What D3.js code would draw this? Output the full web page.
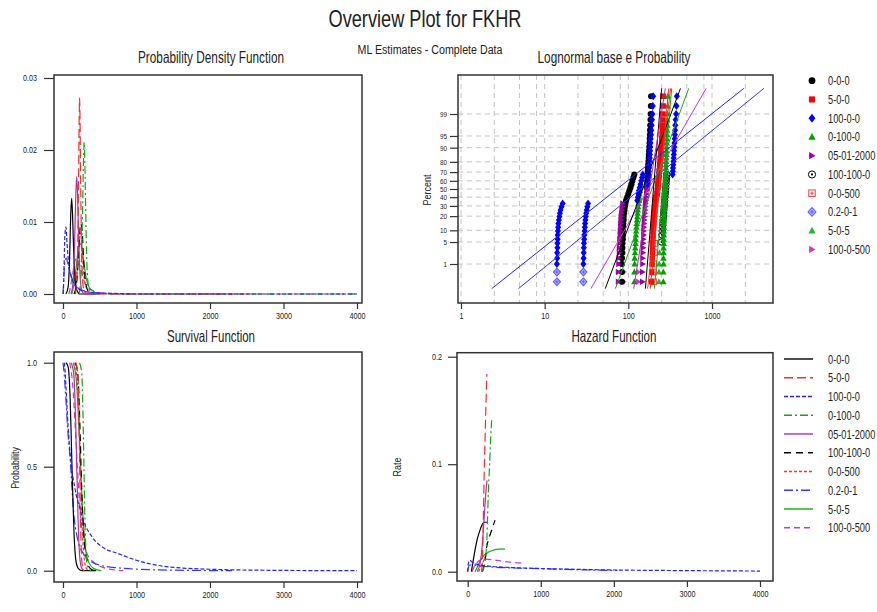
<!DOCTYPE html>
<html>
<head>
<meta charset="utf-8">
<script src="https://cdn.jsdelivr.net/npm/d3@7"></script>
<style>
body { margin: 0; background: #fff; }
svg text { font-family: "Liberation Sans", Arial, sans-serif; fill: #222; }
</style>
</head>
<body>
<div id="chart"></div>
<script>
// Data {{{
const series_names = ["0-0-0", "5-0-0", "100-0-0", "0-100-0", "05-01-2000", "100-100-0", "0-0-500", "0.2-0-1", "5-0-5", "100-0-500"];
const pdf_ticks_x = [0, 1000, 2000, 3000, 4000];
const pdf_ticks_y = [0, 0.01, 0.02, 0.03];
const surv_ticks_y = [0, 0.5, 1];
const haz_ticks_y = [0, 0.1, 0.2];
const prob_ticks_x = [1, 10, 100, 1000];
const prob_grid_x = [1, 2.5, 5, 8, 10, 25, 50, 80, 100, 250, 500, 800, 1000, 2500];
const prob_ticks_pct = [1, 5, 10, 20, 30, 40, 50, 60, 70, 80, 90, 95, 99];

// [time, density]
const pdf_curves = [
  [[40,0],[70,0.001],[90,0.005],[105,0.011],[118,0.0133],[130,0.011],[145,0.006],[165,0.002],[190,0.0005],[230,0],[450,0]],
  [[170,0],[195,0.004],[210,0.014],[220,0.024],[226,0.0272],[232,0.024],[242,0.014],[255,0.005],[275,0.001],[320,0],[2500,0]],
  [[5,0],[15,0.004],[25,0.008],[40,0.0093],[55,0.007],[80,0.004],[110,0.0025],[160,0.0012],[250,0.0005],[400,0.0002],[640,0.0001],[1000,0],[4000,0]],
  [[220,0],[245,0.003],[265,0.011],[280,0.019],[288,0.0211],[296,0.019],[310,0.011],[330,0.003],[360,0.0005],[420,0],[4000,0]],
  [[110,0],[140,0.002],[160,0.008],[175,0.014],[187,0.0163],[198,0.014],[212,0.008],[230,0.003],[255,0.0005],[300,0],[500,0]],
  [[150,0],[190,0.002],[215,0.006],[240,0.0098],[262,0.0085],[285,0.004],[310,0.0015],[350,0.0003],[420,0]],
  [[160,0],[190,0.003],[215,0.007],[235,0.0085],[255,0.007],[280,0.003],[320,0.0008],[380,0]],
  [[0,0],[10,0.002],[25,0.0045],[45,0.005],[70,0.004],[110,0.0025],[170,0.0012],[250,0.0006],[400,0.0002],[700,0],[2300,0]],
  [[120,0],[160,0.002],[200,0.0055],[240,0.007],[275,0.005],[320,0.002],[380,0.0006],[500,0]],
  [[80,0],[120,0.002],[160,0.0045],[190,0.005],[225,0.004],[280,0.002],[350,0.0008],[500,0.0002],[800,0],[4000,0]]
];

// [time, survival probability]
const surv_curves = [
  [[40,1],[70,0.98],[95,0.85],[115,0.6],[130,0.4],[150,0.18],[175,0.05],[210,0.01],[260,0],[450,0]],
  [[175,1],[200,0.95],[215,0.8],[225,0.55],[235,0.3],[248,0.1],[265,0.02],[290,0]],
  [[20,1],[35,0.92],[60,0.75],[100,0.55],[160,0.4],[230,0.3],[280,0.24],[400,0.16],[550,0.11],[730,0.085],[1000,0.05],[1400,0.02],[2000,0.007],[2800,0.002],[4000,0]],
  [[225,1],[255,0.95],[272,0.75],[285,0.5],[298,0.25],[315,0.08],[340,0.01],[380,0]],
  [[110,1],[145,0.95],[170,0.75],[187,0.5],[205,0.25],[225,0.08],[250,0.015],[290,0]],
  [[170,1],[205,0.93],[230,0.7],[250,0.45],[270,0.25],[295,0.12],[330,0.04],[380,0.008],[450,0]],
  [[160,1],[195,0.9],[220,0.7],[240,0.45],[260,0.22],[285,0.07],[320,0.01],[360,0]],
  [[0,1],[15,0.95],[40,0.82],[70,0.65],[95,0.55],[140,0.3],[200,0.15],[280,0.08],[400,0.04],[700,0.015],[1300,0.004],[2300,0]],
  [[140,1],[185,0.9],[215,0.7],[240,0.5],[265,0.3],[300,0.12],[350,0.04],[420,0.01],[520,0]],
  [[90,1],[130,0.9],[165,0.7],[195,0.5],[230,0.3],[280,0.15],[330,0.08],[420,0.04],[550,0.015],[700,0.004],[820,0]]
];

// [time, hazard rate]
const haz_curves = [
  [[50,0],[70,0.008],[100,0.02],[130,0.03],[165,0.038],[200,0.044],[230,0.046],[265,0.046]],
  [[190,0],[205,0.02],[214,0.05],[225,0.088],[240,0.13],[252,0.16],[262,0.184]],
  [[0,0],[10,0.008],[30,0.0105],[60,0.009],[120,0.007],[250,0.0055],[500,0.0042],[1000,0.003],[1500,0.0022],[2000,0.0016],[3000,0.001],[4000,0.0006]],
  [[200,0],[240,0.01],[265,0.035],[282,0.073],[300,0.1],[315,0.125],[328,0.141]],
  [[130,0],[170,0.008],[200,0.025],[225,0.05],[250,0.075],[265,0.085]],
  [[200,0],[230,0.008],[260,0.023],[300,0.033],[340,0.041],[374,0.048]],
  [[150,0],[190,0.006],[230,0.012],[260,0.016]],
  [[0,0],[20,0.006],[60,0.0065],[150,0.0055],[300,0.0045],[600,0.0035],[1000,0.0028],[1500,0.0018],[2050,0.0012]],
  [[100,0],[130,0.004],[170,0.01],[220,0.015],[280,0.018],[350,0.02],[420,0.021],[510,0.021]],
  [[60,0],[100,0.006],[150,0.01],[210,0.0118],[350,0.011],[500,0.0095],[650,0.0085],[770,0.008]]
];

// fitted lines on the probability plot: [time, percent] end points
const prob_lines = [
  [[53,0.1],[420,99.91]],
  [[183,0.1],[304,99.91]],
  [[2.33,0.1],[2400,99.91]],
  [[205,0.1],[330,99.91]],
  [[116,0.1],[277,99.91]],
  [[160,0.1],[250,99.91]],
  [[170,0.1],[320,99.91]],
  [[4.86,0.1],[4170,99.91]],
  [[70,0.1],[527,99.91]],
  [[35.7,0.1],[852,99.91]]
];

// plotted failure points: [time, percent]
const prob_points = [
  [[84,0.2],[84,0.5],[84,1],[84,1.6],[85,2.4],[85,3.4],[85,4.6],[86,6],[86,7.7],[86,9.6],[87,11.8],[87,14.2],[88,16.8],[88,19.6],[89,22.6],[90,25.8],[91,29.2],[92,32.6],
   [94,36.2],[97,40],[100,44],[103,48],[106,52],[109,56],[112,60],[115,63.8],[118,67.4],
   [166,52],[167,56],[168,60],[169,63.8],[170,67.4],[171,70.8],[172,74.2],[173,77.4],[174,80.4],[175,83.2],[176,85.8],[177,88.2],[178,90.4],[179,92.3],[180,94],[181,95.4],[182,96.6],[183,97.6],[184,98.4],[185,99],[186,99.5],[187,99.8]],
  [[190,0.2],[190,0.5],[192,1],[193,1.6],[194,2.4],[195,3.4],[196,4.6],[197,6],[198,7.7],[199,9.6],[200,11.8],[201,14.2],[202,16.8],[204,19.6],[205,22.6],[206,25.8],[208,29.2],[209,32.6],[211,36.2],[213,40],
   [222,44],[224,48],[226,52],[228,56],[230,60],[232,63.8],[234,67.4],[236,70.8],[238,74.2],[240,77.4],[242,80.4],[244,83.2],[246,85.8],[248,88.2],[250,90.4],[252,92.3],[254,94],[256,95.4],[257,96.6],[258,97.6],[259,98.4],[260,99],[261,99.5],[262,99.8]],
  [[14,1],[14.1,1.6],[14.1,2.4],[14.2,3.4],[14.2,4.6],[14.3,6],[14.3,7.7],[14.4,9.6],[14.5,11.8],[14.6,14.2],[14.8,16.8],[15,19.6],[15.2,22.6],[15.5,25.8],[15.9,29.2],[16.4,32.6],
   [29,1],[29.2,1.6],[29.3,2.4],[29.4,3.4],[29.5,4.6],[29.7,6],[29.8,7.7],[30,9.6],[30.2,11.8],[30.4,14.2],[30.7,16.8],[31,19.6],[31.4,22.6],[31.8,25.8],[32.4,29.2],[33,32.6],
   [128,36.2],[130,40],[132,44],[134,48],[137,52],[140,56],[143,60],[146,63.8],[149,67.4],
   [172,56],[173,60],[174,63.8],[175,67.4],[176,70.8],[177,74.2],[178,77.4],[179,80.4],[180,83.2],[181,85.8],[182,88.2],[183,90.4],[184,92.3],[185,94],[187,95.4],[188,96.6],[190,97.6],[192,98.4],[194,99],[196,99.5],[198,99.8],
   [338,67.4],[340,70.8],[342,74.2],[344,77.4],[346,80.4],[348,83.2],[350,85.8],[352,88.2],[354,90.4],[356,92.3],[358,94],[360,95.4],[362,96.6],[364,97.6],[368,98.4],[372,99],[376,99.5],[380,99.8]],
  [[118,0.2],[118,0.5],[119,1],[119,1.6],[120,2.4],[121,3.4],[122,4.6],[122,6],[123,7.7],[124,9.6],[125,11.8],[126,14.2],[127,16.8],[128,19.6],[129,22.6],[130,25.8],[131,29.2],[132,32.6],[134,36.2],[135,40],[136,44],[138,48],[139,52],[140,55],
   [262,0.2],[262,0.5],[263,1],[263,1.6],[264,2.4],[264,3.4],[265,4.6],[265,6],[266,7.7],[266,9.6],[267,11.8],[267,14.2],[268,16.8],[268,19.6],[269,22.6],[269,25.8],[270,29.2],[270,32.6],[271,36.2],[272,40],[273,44],[274,48],[275,52],[276,56],[277,60],[278,63.8],[279,67.4],[280,70.8],[281,74.2],[282,77.4],[283,80.4],[284,83.2],[285,85.8],[286,88.2],[287,90.4],[288,92.3],[289,94],[290,95.4],[291,96.6],[292,97.6],[293,98.4],[294,99],[296,99.5],[298,99.8]],
  [[76,0.2],[76,0.5],[77,1],[77,1.6],[78,2.4],[78,3.4],[79,4.6],[79,6],[80,7.7],[80,9.6],[81,11.8],[81,14.2],[82,16.8],[82,19.6],[83,22.6],[84,25.8],[85,29.2],[86,32.6],
   [148,0.2],[148,0.5],[149,1],[149,1.6],[150,2.4],[151,3.4],[151,4.6],[152,6],[153,7.7],[153,9.6],[154,11.8],[155,14.2],[156,16.8],[157,19.6],[158,22.6],[159,25.8],[160,29.2],[161,32.6],[162,36.2],[164,40],[165,44],[167,48],[168,52],[170,56],
   [215,36.2],[217,40],[219,44],[221,48],[223,52],[225,56],[227,60],[229,63.8],[231,67.4],[233,70.8],[235,74.2],[237,77.4],[239,80.4],[241,83.2],[243,85.8],[245,88.2],[247,90.4],[249,92.3],[251,94],[253,95.4],[254,96.6],[255,97.6],[256,98.4],[257,99],[258,99.5],[259,99.8]],
  [[250,5],[252,7.7],[254,9.6],[256,11.8],[258,14.2],[260,16.8],[262,19.6],[264,22.6],[266,25.8],[268,29.2],[270,32.6],[272,36.2],[274,40],[276,44],[278,48],[280,52],[282,56],[284,60],[286,63.8],[288,67.4]],
  [[200,0.2],[200,0.5],[202,1],[204,2.4],[206,4.6]],
  [[14,0.2],[14,0.5],[29,0.2],[29,0.5]],
  [[232,0.2],[232,0.5],[234,1],[236,2.4]],
  [[88,0.2],[88,0.5],[132,0.2],[132,0.5]]
];
// }}}
// Styles {{{
const line_colors = ["#000000", "#ff2a2a", "#2323ff", "#12a812", "#b030b0", "#000000", "#ff3030", "#3535ff", "#18a818", "#c040c0"];
const line_dashes = [null, "9,4", "4,2", "8,3,2,3", null, "7,5", "3,2", "9,3,2,3", null, "6,4"];
const marker_kinds = ["circle", "square", "diamond", "triangle", "rtri", "circledot", "squareplus", "diamondplus", "triangle", "rtri"];
const marker_colors = ["#000000", "#ff0000", "#0000ff", "#00a000", "#a000a0", "#000000", "#ff3c3c", "#5a5aff", "#30b030", "#c040c0"];
const draw_order = [9, 8, 7, 6, 5, 0, 4, 3, 1, 2];
const frame_color = "#333";
const grid_color = "#c4c4c4";
// }}}
// helpers {{{
const svg = d3.select("#chart").append("svg")
    .attr("width", 877)
    .attr("height", 612);

// inverse normal cdf (Acklam), used for the probability scale
function probit(p) {
    const a = [-3.969683028665376e+01, 2.209460984245205e+02, -2.759285104469687e+02, 1.383577518672690e+02, -3.066479806614716e+01, 2.506628277459239e+00];
    const b = [-5.447609879822406e+01, 1.615858368580409e+02, -1.556989798598866e+02, 6.680131188771972e+01, -1.328068155288572e+01];
    const c = [-7.784894002430293e-03, -3.223964580411365e-01, -2.400758277161838e+00, -2.549732539343734e+00, 4.374664141464968e+00, 2.938163982698783e+00];
    const d = [7.784695709041462e-03, 3.224671290700398e-01, 2.445134137142996e+00, 3.754408661907416e+00];
    const plow = 0.02425, phigh = 1 - plow;
    let q, r;
    if (p < plow) {
        q = Math.sqrt(-2 * Math.log(p));
        return (((((c[0]*q+c[1])*q+c[2])*q+c[3])*q+c[4])*q+c[5]) / ((((d[0]*q+d[1])*q+d[2])*q+d[3])*q+1);
    }
    if (p > phigh) {
        q = Math.sqrt(-2 * Math.log(1 - p));
        return -(((((c[0]*q+c[1])*q+c[2])*q+c[3])*q+c[4])*q+c[5]) / ((((d[0]*q+d[1])*q+d[2])*q+d[3])*q+1);
    }
    q = p - 0.5;
    r = q * q;
    return (((((a[0]*r+a[1])*r+a[2])*r+a[3])*r+a[4])*r+a[5])*q / (((((b[0]*r+b[1])*r+b[2])*r+b[3])*r+b[4])*r+1);
}

// squeeze text horizontally, the original uses a narrow face
function condense(sel, k) {
    sel.each(function() {
        const w = this.getComputedTextLength();
        d3.select(this).attr("textLength", w * k).attr("lengthAdjust", "spacingAndGlyphs");
    });
}

function draw_frame(x0, y0, x1, y1) {
    svg.append("rect")
        .attr("x", x0).attr("y", y0)
        .attr("width", x1 - x0).attr("height", y1 - y0)
        .attr("fill", "none")
        .attr("stroke", frame_color)
        .attr("stroke-width", 1.5);
}

function add_clip(id, x0, y0, x1, y1) {
    svg.append("clipPath").attr("id", id)
        .append("rect")
        .attr("x", x0).attr("y", y0)
        .attr("width", x1 - x0).attr("height", y1 - y0);
}

function style_axis(g, fs) {
    g.select(".domain").remove();
    g.selectAll(".tick line").attr("stroke", frame_color).attr("stroke-width", 1.2);
    g.selectAll(".tick text").style("font-size", (fs || 8.5) + "px").attr("fill", "#333");
    condense(g.selectAll(".tick text"), 0.85);
}

function draw_marker(g, kind, color, s) {
    if (kind == "circle") {
        g.append("circle").attr("r", s * 0.95).attr("fill", color);
    } else if (kind == "square") {
        g.append("rect").attr("x", -s * 0.85).attr("y", -s * 0.85).attr("width", s * 1.7).attr("height", s * 1.7).attr("fill", color);
    } else if (kind == "diamond") {
        g.append("path").attr("d", `M0,${-s*1.25}L${s*0.95},0L0,${s*1.25}L${-s*0.95},0Z`).attr("fill", color);
    } else if (kind == "triangle") {
        g.append("path").attr("d", `M0,${-s*1.1}L${s},${s*0.8}L${-s},${s*0.8}Z`).attr("fill", color);
    } else if (kind == "rtri") {
        g.append("path").attr("d", `M${-s*0.8},${-s}L${s},0L${-s*0.8},${s}Z`).attr("fill", color);
    } else if (kind == "circledot") {
        g.append("circle").attr("r", s).attr("fill", "none").attr("stroke", color).attr("stroke-width", 1);
        g.append("circle").attr("r", s * 0.3).attr("fill", color);
    } else if (kind == "squareplus") {
        g.append("rect").attr("x", -s * 0.9).attr("y", -s * 0.9).attr("width", s * 1.8).attr("height", s * 1.8)
            .attr("fill", "none").attr("stroke", color).attr("stroke-width", 1);
        g.append("path").attr("d", `M${-s*0.5},0H${s*0.5}M0,${-s*0.5}V${s*0.5}`).attr("stroke", color).attr("stroke-width", 1);
    } else if (kind == "diamondplus") {
        g.append("path").attr("d", `M0,${-s*1.2}L${s*1.1},0L0,${s*1.2}L${-s*1.1},0Z`)
            .attr("fill", "#b8b8ff").attr("stroke", color).attr("stroke-width", 1.1);
        g.append("path").attr("d", `M${-s*0.5},0H${s*0.5}M0,${-s*0.5}V${s*0.5}`).attr("stroke", color).attr("stroke-width", 1);
    }
}

function draw_curves(curves, x, y, clip_id) {
    const line = d3.line()
        .x(d => x(d[0]))
        .y(d => y(d[1]))
        .curve(d3.curveMonotoneX);
    const g = svg.append("g").attr("clip-path", "url(#" + clip_id + ")");
    draw_order.forEach(i => {
        g.append("path")
            .datum(curves[i])
            .attr("d", line)
            .attr("fill", "none")
            .attr("stroke", line_colors[i])
            .attr("stroke-width", 1.2)
            .attr("stroke-dasharray", line_dashes[i]);
    });
}

// legend label, squeezed with a transform so its box stays inside the page
function legend_text(g, yy, name) {
    g.append("text")
        .attr("transform", "translate(828," + yy + ") scale(0.74,1)")
        .attr("dy", "0.36em")
        .style("font-size", "12.5px")
        .text(name);
}
// }}}
// Titles {{{
svg.append("text").attr("x", 425).attr("y", 27).attr("text-anchor", "middle")
    .style("font-size", "24px").attr("textLength", 193).attr("lengthAdjust", "spacingAndGlyphs")
    .text("Overview Plot for FKHR");
svg.append("text").attr("x", 430).attr("y", 54).attr("text-anchor", "middle")
    .style("font-size", "12px").attr("textLength", 145).attr("lengthAdjust", "spacingAndGlyphs")
    .text("ML Estimates - Complete Data");

const panel_titles = [
    {t: "Probability Density Function", x: 211, y: 63, w: 146},
    {t: "Lognormal base e Probability", x: 614, y: 63, w: 153},
    {t: "Survival Function", x: 211, y: 342, w: 88},
    {t: "Hazard Function", x: 614, y: 342, w: 85}
];
panel_titles.forEach(p => {
    svg.append("text").attr("x", p.x).attr("y", p.y).attr("text-anchor", "middle")
        .style("font-size", "16.5px").attr("textLength", p.w).attr("lengthAdjust", "spacingAndGlyphs")
        .text(p.t);
});

const axis_titles = [
    {t: "Percent", x: 427, y: 190},
    {t: "Probability", x: 15, y: 468},
    {t: "Rate", x: 397, y: 467}
];
axis_titles.forEach(a => {
    svg.append("text").attr("transform", "translate(" + a.x + "," + a.y + ") rotate(-90)")
        .attr("text-anchor", "middle").attr("dy", "0.35em")
        .style("font-size", "10.5px")
        .text(a.t)
        .call(condense, 0.85);
});
// }}}
// PDF panel {{{
function plot_pdf() {
    const x = d3.scaleLinear().domain([0, 4000]).range([63, 357]);
    const y = d3.scaleLinear().domain([0, 0.03]).range([294, 78]);
    add_clip("clip-pdf", 54, 75, 362, 303);
    draw_curves(pdf_curves, x, y, "clip-pdf");
    draw_frame(54, 75, 362, 303);
    svg.append("g").attr("transform", "translate(54,0)")
        .call(d3.axisLeft(y).tickValues(pdf_ticks_y).tickFormat(d3.format(".2f")).tickSize(10).tickPadding(7))
        .call(style_axis);
    svg.append("g").attr("transform", "translate(0,303)")
        .call(d3.axisBottom(x).tickValues(pdf_ticks_x).tickFormat(d3.format("d")).tickSize(6).tickPadding(4))
        .call(style_axis);
}
// }}}
// Survival panel {{{
function plot_survival() {
    const x = d3.scaleLinear().domain([0, 4000]).range([63, 357]);
    const y = d3.scaleLinear().domain([0, 1]).range([570.7, 362.7]);
    add_clip("clip-surv", 54, 352, 362, 582);
    draw_curves(surv_curves, x, y, "clip-surv");
    draw_frame(54, 352, 362, 582);
    svg.append("g").attr("transform", "translate(54,0)")
        .call(d3.axisLeft(y).tickValues(surv_ticks_y).tickFormat(d3.format(".1f")).tickSize(10).tickPadding(7))
        .call(style_axis);
    svg.append("g").attr("transform", "translate(0,582)")
        .call(d3.axisBottom(x).tickValues(pdf_ticks_x).tickFormat(d3.format("d")).tickSize(6).tickPadding(4))
        .call(style_axis);
}
// }}}
// Hazard panel {{{
function plot_hazard() {
    const x = d3.scaleLinear().domain([0, 4000]).range([467.7, 760]);
    const y = d3.scaleLinear().domain([0, 0.2]).range([571.7, 356.7]);
    add_clip("clip-haz", 457, 352.7, 773, 581);
    draw_curves(haz_curves, x, y, "clip-haz");
    draw_frame(457, 352.7, 773, 581);
    svg.append("g").attr("transform", "translate(457,0)")
        .call(d3.axisLeft(y).tickValues(haz_ticks_y).tickFormat(d3.format(".1f")).tickSize(9).tickPadding(6))
        .call(style_axis);
    svg.append("g").attr("transform", "translate(0,581)")
        .call(d3.axisBottom(x).tickValues(pdf_ticks_x).tickFormat(d3.format("d")).tickSize(6).tickPadding(4))
        .call(style_axis);
}
// }}}
// Probability plot {{{
function plot_probability() {
    const x = d3.scaleLog().domain([1, 1000]).range([461, 712]);
    const y = d3.scaleLinear().domain([-3.536, 3.536]).range([303, 75]);
    const yp = p => y(probit(p / 100));
    add_clip("clip-prob", 458, 75, 773, 303);

    const grid = svg.append("g").attr("clip-path", "url(#clip-prob)");
    grid.selectAll("line.vg")
        .data(prob_grid_x)
        .enter().append("line")
        .attr("x1", d => x(d)).attr("x2", d => x(d))
        .attr("y1", 75).attr("y2", 303)
        .attr("stroke", grid_color).attr("stroke-dasharray", "5,4");
    grid.selectAll("line.hg")
        .data(prob_ticks_pct)
        .enter().append("line")
        .attr("x1", 458).attr("x2", 773)
        .attr("y1", d => yp(d)).attr("y2", d => yp(d))
        .attr("stroke", grid_color).attr("stroke-dasharray", "5,4");

    const pts = svg.append("g").attr("clip-path", "url(#clip-prob)");
    draw_order.forEach(i => {
        prob_points[i].forEach(d => {
            const g = pts.append("g").attr("transform", "translate(" + x(d[0]) + "," + yp(d[1]) + ")");
            draw_marker(g, marker_kinds[i], marker_colors[i], 3.2);
        });
    });

    const line = d3.line().x(d => x(d[0])).y(d => yp(d[1]));
    const lines = svg.append("g").attr("clip-path", "url(#clip-prob)");
    draw_order.forEach(i => {
        lines.append("path")
            .datum(prob_lines[i])
            .attr("d", line)
            .attr("fill", "none")
            .attr("stroke", line_colors[i])
            .attr("stroke-width", 1);
    });

    draw_frame(458, 75, 773, 303);
    svg.append("g").attr("transform", "translate(458,0)")
        .call(d3.axisLeft(y).tickValues(prob_ticks_pct.map(p => probit(p / 100)))
            .tickFormat((d, i) => prob_ticks_pct[i]).tickSize(8).tickPadding(3))
        .call(style_axis, 7.5);
    svg.append("g").attr("transform", "translate(0,303)")
        .call(d3.axisBottom(x).tickValues(prob_ticks_x).tickFormat(d3.format("d")).tickSize(6).tickPadding(4))
        .call(style_axis);
}
// }}}
// Legends {{{
function plot_legends() {
    const lg1 = svg.append("g");
    series_names.forEach((name, i) => {
        const yy = 80.7 + i * 18.75;
        const g = lg1.append("g").attr("transform", "translate(812," + yy + ")");
        draw_marker(g, marker_kinds[i], marker_colors[i], 3.6);
        legend_text(lg1, yy, name);
    });
    const lg2 = svg.append("g");
    series_names.forEach((name, i) => {
        const yy = 359 + i * 18.75;
        lg2.append("line")
            .attr("x1", 784).attr("x2", 813).attr("y1", yy).attr("y2", yy)
            .attr("stroke", line_colors[i]).attr("stroke-width", 1.4)
            .attr("stroke-dasharray", line_dashes[i]);
        legend_text(lg2, yy, name);
    });
}
// }}}
plot_pdf();
plot_probability();
plot_survival();
plot_hazard();
plot_legends();
</script>
</body>
</html>
